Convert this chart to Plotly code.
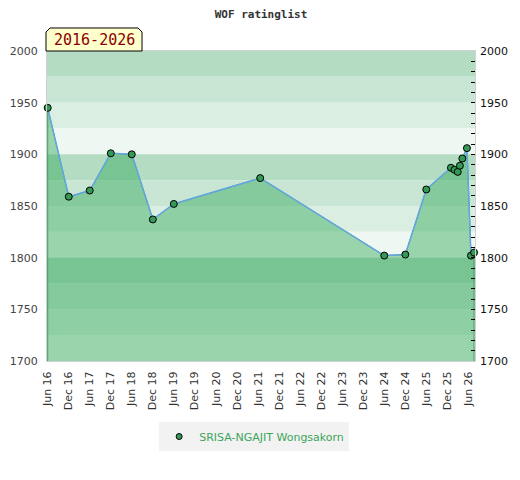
import plotly.graph_objects as go

# rating list dates and ratings
dates = ["2016-06-01", "2016-12-01", "2017-06-01", "2017-12-01", "2018-06-01",
         "2018-12-01", "2019-06-01", "2021-06-20", "2024-06-01", "2024-12-01",
         "2025-06-01", "2026-01-01", "2026-02-01", "2026-03-01", "2026-03-20",
         "2026-04-10", "2026-05-20", "2026-06-24", "2026-07-21"]
ratings = [1945, 1859, 1865, 1901, 1900, 1837, 1852, 1877, 1802, 1803,
           1866, 1887, 1885, 1883, 1889, 1896, 1906, 1802, 1805]

player = "SRISA-NGAJIT Wongsakorn"
period = "2016-2026"
y_min, y_max = 1700, 2000
band_colors = ["#b3dcc3", "#c8e6d3", "#dbeee2", "#eff7f2"]

fig = go.Figure()

# area under the curve, closed down to the axis minimum
fig.add_trace(go.Scatter(
    x=[dates[0]] + dates + [dates[-1]],
    y=[y_min] + ratings + [y_min],
    fill="toself", fillcolor="rgba(48,168,88,0.45)",
    line=dict(color="#3c9a5c", width=1),
    mode="lines", showlegend=False, hoverinfo="skip"))

fig.add_trace(go.Scatter(
    x=dates, y=ratings, mode="lines",
    line=dict(color="#64a6e0", width=1.5),
    showlegend=False, hoverinfo="skip"))

fig.add_trace(go.Scatter(
    x=dates, y=ratings, mode="markers", name=player, yaxis="y2",
    marker=dict(size=7, color="#339955", line=dict(color="black", width=1)),
    cliponaxis=False, showlegend=False))

# legend entry with a smaller dot
fig.add_trace(go.Scatter(
    x=[None], y=[None], mode="markers", name=player,
    marker=dict(size=6, color="#339955", line=dict(color="black", width=1))))

# horizontal bands every 25 points
shapes = []
for i, lo in enumerate(range(y_max - 25, y_min - 1, -25)):
    shapes.append(dict(type="rect", xref="paper", yref="y", x0=0, x1=1,
                       y0=lo, y1=lo + 25, fillcolor=band_colors[i % 4],
                       line=dict(width=0), layer="below"))

# period label box with clipped top corners
x0, x1, yb, yt, cx, cy = -0.0023, 0.222, 1.0, 1.0742, 0.0093, 0.013
shapes.append(dict(
    type="path", xref="paper", yref="paper",
    path=f"M {x0},{yb} L {x0},{yt - cy} L {x0 + cx},{yt} L {x1 - cx},{yt} "
         f"L {x1},{yt - cy} L {x1},{yb} Z",
    fillcolor="#ffffcc", line=dict(color="black", width=1)))

# the page body adds about 7px on the left and top, so margins compensate
fig.update_layout(
    width=520, height=480,
    margin=dict(l=39, r=53, t=43, b=127),
    paper_bgcolor="white", plot_bgcolor="white",
    title=dict(text="WOF ratinglist", x=(39 + 214) / 520, xanchor="center",
               y=1 - 6 / 480, yanchor="middle",
               font=dict(family="DejaVu Sans Mono", size=11, color="#333",
                         weight="bold")),
    shapes=shapes,
    annotations=[dict(text=period, xref="paper", yref="paper",
                      x=(x0 + x1) / 2, y=1.035, xanchor="center",
                      yanchor="middle", showarrow=False,
                      font=dict(family="DejaVu Sans Mono", size=15,
                                color="#8b0000"))],
    xaxis=dict(type="date", range=["2016-05-26", "2026-07-29"],
               tick0="2016-06-01", dtick="M6", tickformat="%b %y",
               tickangle=-90, showgrid=False, zeroline=False,
               showline=True, linecolor="#d0d0d0", linewidth=1, mirror=True,
               automargin=False, ticklabelstandoff=5,
               tickfont=dict(family="DejaVu Sans", size=11, color="#333")),
    yaxis=dict(range=[y_min, y_max], dtick=50, showgrid=False,
               zeroline=False, showline=True, linecolor="#d0d0d0",
               linewidth=1, mirror=True, ticks="", automargin=False,
               ticklabelstandoff=6,
               tickfont=dict(family="DejaVu Sans", size=11, color="#444")),
    yaxis2=dict(range=[y_min, y_max], dtick=50, overlaying="y",
                side="right", showgrid=False, zeroline=False,
                ticks="inside", ticklen=4, tickcolor="black",
                automargin=False, ticklabelstandoff=4,
                minor=dict(dtick=10, ticks="inside", ticklen=4,
                           tickcolor="black", showgrid=False),
                tickfont=dict(family="DejaVu Sans", size=11, color="#111")),
    legend=dict(orientation="h", x=0.484, xanchor="center",
                y=(353 - 428.5) / 310, yanchor="middle",
                bgcolor="#f2f2f2",
                font=dict(family="DejaVu Sans", size=11, color="#3ca55c")),
)

fig.write_html("out.html")
